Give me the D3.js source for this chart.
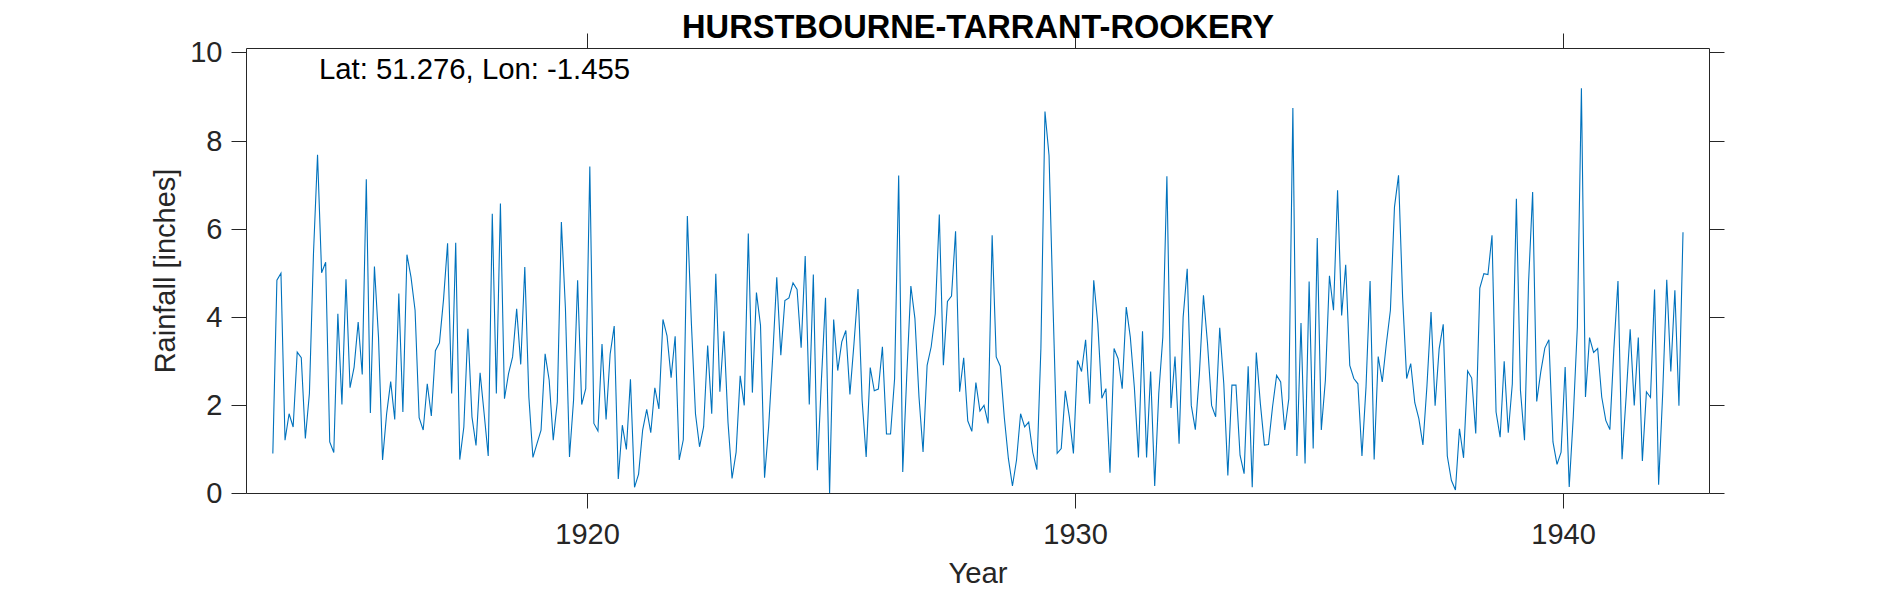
<!DOCTYPE html>
<html>
<head>
<meta charset="utf-8">
<script src="https://cdnjs.cloudflare.com/ajax/libs/d3/7.8.5/d3.min.js"></script>
<style>
html, body { margin: 0; padding: 0; background: #fff; }
svg { display: block; }
text { font-family: "Liberation Sans", Arial, sans-serif; }
.tick line, .domain { stroke: #262626; }
.tick text { fill: #262626; font-size: 29px; font-family: "Liberation Sans", Arial, sans-serif; }
</style>
</head>
<body>
<script>
var width = 1890, height = 591;
var box = {left: 246.5, right: 1709.5, top: 48.5, bottom: 493.5};

var title = "HURSTBOURNE-TARRANT-ROOKERY";
var note = "Lat: 51.276, Lon: -1.455";
var xLabel = "Year";
var yLabel = "Rainfall [inches]";
var xTicks = [1920, 1930, 1940];
var yTicks = [0, 2, 4, 6, 8, 10];
var xRange = [1913, 1943];
var yRange = [0, 10.1];

// first reading is July 1913, one value a month
var firstMonth = 1913.54;
var rainfall = [
  0.91,4.84,5.00,1.21,1.81,1.51,3.21,3.08,1.25,2.27,5.44,7.69,
  5.01,5.25,1.17,0.93,4.08,2.02,4.86,2.40,2.87,3.89,2.70,7.13,
  1.83,5.15,3.55,0.76,1.81,2.54,1.68,4.54,1.85,5.42,4.91,4.16,
  1.72,1.44,2.49,1.76,3.24,3.42,4.40,5.68,2.27,5.69,0.77,1.51,
  3.74,1.74,1.09,2.74,1.81,0.85,6.35,2.27,6.58,2.15,2.72,3.10,
  4.19,2.93,5.14,2.19,0.82,1.13,1.44,3.17,2.57,1.21,2.08,6.16,
  4.20,0.83,2.12,4.84,2.02,2.38,7.42,1.59,1.42,3.39,1.68,3.16,
  3.80,0.33,1.55,1.00,2.59,0.14,0.44,1.44,1.91,1.38,2.40,1.92,
  3.95,3.58,2.63,3.57,0.76,1.22,6.30,3.85,1.81,1.06,1.51,3.36,
  1.81,4.99,2.31,3.68,1.62,0.34,0.94,2.67,2.00,5.90,2.29,4.56,
  3.82,0.36,1.51,3.10,4.91,3.14,4.38,4.44,4.78,4.63,3.31,5.39,
  2.02,4.97,0.53,2.60,4.44,0.00,3.95,2.79,3.44,3.70,2.25,3.40,
  4.64,2.12,0.83,2.86,2.33,2.37,3.33,1.35,1.35,2.61,7.22,0.49,
  2.70,4.71,3.97,2.19,0.94,2.91,3.33,4.08,6.33,2.91,4.36,4.48,
  5.95,2.31,3.08,1.65,1.41,2.52,1.87,2.00,1.59,5.86,3.10,2.89,
  1.72,0.79,0.17,0.76,1.81,1.51,1.62,0.93,0.54,3.30,8.67,7.67,
  4.20,0.91,1.02,2.33,1.74,0.91,3.02,2.77,3.49,2.04,4.84,3.85,
  2.16,2.38,0.47,3.29,3.06,2.38,4.23,3.55,2.40,0.82,3.68,0.82,
  2.77,0.17,2.27,3.55,7.20,1.94,3.11,1.13,4.00,5.10,2.00,1.45,
  2.72,4.50,3.40,2.00,1.74,3.76,2.49,0.41,2.46,2.46,0.87,0.45,
  2.89,0.14,3.20,2.04,1.10,1.11,1.97,2.68,2.53,1.44,2.15,8.75,
  0.85,3.87,0.68,4.81,1.02,5.80,1.44,2.57,4.94,4.16,6.88,4.04,
  5.19,2.91,2.61,2.49,0.85,2.42,4.82,0.77,3.11,2.53,3.40,4.16,
  6.50,7.22,4.46,2.61,2.95,2.06,1.70,1.10,2.45,4.12,1.99,3.29,
  3.84,0.85,0.30,0.08,1.47,0.81,2.78,2.62,1.36,4.66,4.99,4.97,
  5.86,1.85,1.28,3.00,1.38,2.49,6.69,2.34,1.21,4.80,6.84,2.09,
  2.76,3.30,3.49,1.17,0.66,0.94,2.87,0.15,1.74,3.78,9.20,2.19,
  3.54,3.20,3.29,2.19,1.66,1.45,3.30,4.82,0.78,2.19,3.73,2.00,
  3.54,0.74,2.31,2.18,4.63,0.20,2.27,4.85,2.77,4.61,1.99,5.93
];

var svg = d3.select("body")
                    .append("svg")
                    .attr("width", width)
                    .attr("height", height);

var x = d3.scaleLinear().domain(xRange).range([box.left, box.right]);
var y = d3.scaleLinear().domain(yRange).range([box.bottom, box.top]);

var line = d3.line()
             .x(function(d, i){ return x(firstMonth + i/12); })
             .y(function(d){ return y(d); });

svg.append("path")
   .datum(rainfall)
   .attr("d", line)
   .attr("fill", "none")
   .attr("stroke", "#0072BD")
   .attr("stroke-width", 1.1)
   .attr("stroke-linejoin", "miter");

// ticks stick out of the box on all four sides
var tickLen = 15;
function noLabel(){ return ""; }

// snap tick lines to whole pixels so they stay as dark as the box
function snap(g, horizontal){
  g.selectAll(".tick").attr("transform", function(d){
    var p = horizontal ? x(d) : y(d);
    p = Math.floor(p) + 0.5;
    return horizontal ? "translate(" + p + ",0)" : "translate(0," + p + ")";
  });
}

svg.append("g").attr("transform", "translate(0," + box.bottom + ")")
   .call(d3.axisBottom(x).offset(0).tickValues(xTicks).tickSize(tickLen).tickSizeOuter(0).tickPadding(15).tickFormat(d3.format("d")))
   .call(snap, true);
svg.append("g").attr("transform", "translate(0," + box.top + ")")
   .call(d3.axisTop(x).offset(0).tickValues(xTicks).tickSize(tickLen).tickSizeOuter(0).tickFormat(noLabel))
   .call(snap, true);
svg.append("g").attr("transform", "translate(" + box.left + ",0)")
   .call(d3.axisLeft(y).offset(0).tickValues(yTicks).tickSize(tickLen).tickSizeOuter(0).tickPadding(9).tickFormat(d3.format("d")))
   .call(snap, false);
svg.append("g").attr("transform", "translate(" + box.right + ",0)")
   .call(d3.axisRight(y).offset(0).tickValues(yTicks).tickSize(tickLen).tickSizeOuter(0).tickFormat(noLabel))
   .call(snap, false);

svg.append("text")
   .attr("x", (box.left + box.right)/2).attr("y", 38)
   .attr("text-anchor", "middle")
   .attr("font-size", 32.6).attr("font-weight", "bold").attr("fill", "#000")
   .text(title);

svg.append("text")
   .attr("x", 319).attr("y", 79)
   .attr("font-size", 29.3).attr("fill", "#000")
   .text(note);

svg.append("text")
   .attr("x", (box.left + box.right)/2).attr("y", 583)
   .attr("text-anchor", "middle")
   .attr("font-size", 29.3).attr("fill", "#262626")
   .text(xLabel);

svg.append("text")
   .attr("transform", "translate(175," + (box.top + box.bottom)/2 + ") rotate(-90)")
   .attr("text-anchor", "middle")
   .attr("font-size", 29).attr("fill", "#262626")
   .text(yLabel);
</script>
</body>
</html>
